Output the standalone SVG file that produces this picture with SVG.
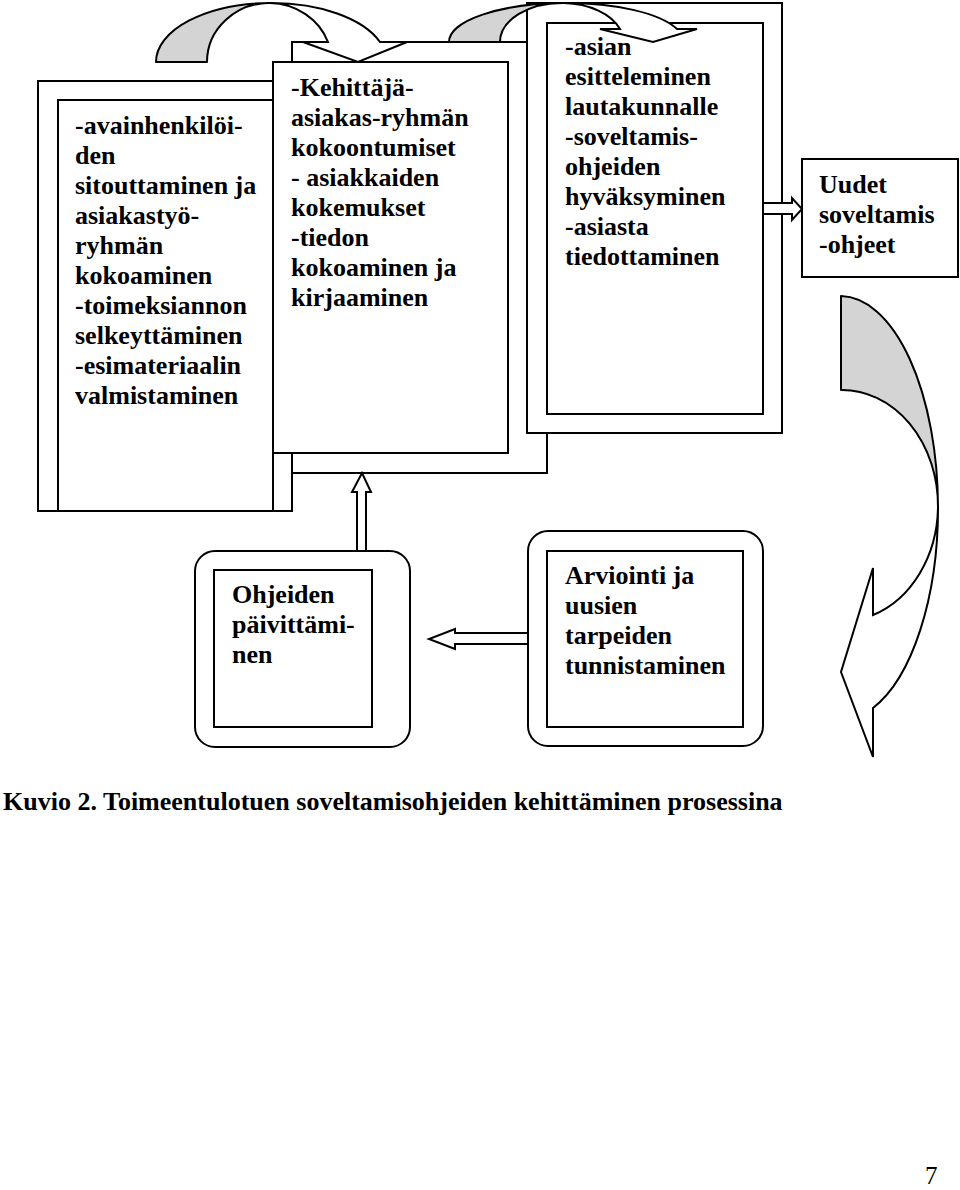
<svg xmlns="http://www.w3.org/2000/svg" width="960" height="1190" viewBox="0 0 960 1190">
<style>
.frame{fill:#fff;stroke:#000;stroke-width:2}
.back{fill:#d4d4d4;stroke:#000;stroke-width:2;stroke-linejoin:round}
.front{fill:#fff;stroke:#000;stroke-width:2;stroke-linejoin:miter}
.t{font-family:"Liberation Serif","Times New Roman",serif;font-weight:bold;font-size:26px;fill:#000}
.pg{font-family:"Liberation Serif","Times New Roman",serif;font-size:25px;fill:#000}
</style>
<rect width="960" height="1190" fill="#fff"/>
<g id="node-prep">
<rect class="frame" x="38" y="81" width="254" height="430"/>
<rect class="frame" x="58" y="100" width="215" height="411"/>
<text class="t" x="75" y="134">-avainhenkilöi-<tspan x="75" dy="30">den</tspan><tspan x="75" dy="30">sitouttaminen ja</tspan><tspan x="75" dy="30">asiakastyö-</tspan><tspan x="75" dy="30">ryhmän</tspan><tspan x="75" dy="30">kokoaminen</tspan><tspan x="75" dy="30">-toimeksiannon</tspan><tspan x="75" dy="30">selkeyttäminen</tspan><tspan x="75" dy="30">-esimateriaalin</tspan><tspan x="75" dy="30">valmistaminen</tspan></text>
</g>
<g id="node-group">
<rect class="frame" x="292" y="42" width="255" height="431"/>
<rect class="frame" x="273" y="62" width="235" height="391"/>
<text class="t" x="291" y="96">-Kehittäjä-<tspan x="291" dy="30">asiakas-ryhmän</tspan><tspan x="291" dy="30">kokoontumiset</tspan><tspan x="291" dy="30">- asiakkaiden</tspan><tspan x="291" dy="30">kokemukset</tspan><tspan x="291" dy="30">-tiedon</tspan><tspan x="291" dy="30">kokoaminen ja</tspan><tspan x="291" dy="30">kirjaaminen</tspan></text>
</g>
<g id="node-board">
<rect class="frame" x="527" y="3" width="255" height="430"/>
<rect class="frame" x="547" y="23" width="216" height="391"/>
<text class="t" x="565" y="55">-asian<tspan x="565" dy="30">esitteleminen</tspan><tspan x="565" dy="30">lautakunnalle</tspan><tspan x="565" dy="30">-soveltamis-</tspan><tspan x="565" dy="30">ohjeiden</tspan><tspan x="565" dy="30">hyväksyminen</tspan><tspan x="565" dy="30">-asiasta</tspan><tspan x="565" dy="30">tiedottaminen</tspan></text>
</g>
<g id="node-new">
<rect class="frame" x="802" y="159" width="156" height="118"/>
<text class="t" x="819" y="193">Uudet<tspan x="819" dy="30">soveltamis</tspan><tspan x="819" dy="30">-ohjeet</tspan></text>
</g>
<g id="node-update">
<rect class="frame" x="195" y="551" width="215" height="196" rx="20" ry="20"/>
<rect class="frame" x="214" y="570" width="158" height="157"/>
<text class="t" x="232" y="603">Ohjeiden<tspan x="232" dy="30">päivittämi-</tspan><tspan x="232" dy="30">nen</tspan></text>
</g>
<g id="node-eval">
<rect class="frame" x="528" y="531" width="235" height="215" rx="20" ry="20"/>
<rect class="frame" x="547" y="551" width="196" height="176"/>
<text class="t" x="565" y="584">Arviointi ja<tspan x="565" dy="30">uusien</tspan><tspan x="565" dy="30">tarpeiden</tspan><tspan x="565" dy="30">tunnistaminen</tspan></text>
</g>
<g id="connectors">
<path class="back" d="M156,62 A115,59 0 0 1 270,3 A63,59 0 0 0 207,62 Z"/>
<path class="front" d="M270,3 A115,59 0 0 1 380,42 L407,42 L358,62 L303,42 L328,42 A63,59 0 0 0 270,3 Z"/>
<path class="back" d="M449,42 A117,39 0 0 1 564,3 A62,39 0 0 0 500,42 Z"/>
<path class="front" d="M564,3 A117,39 0 0 1 677,29 L697,29 L653,42 L600,29 L620,29 A62,39 0 0 0 564,3 Z"/>
<path class="back" d="M841,296 A98,212 0 0 1 938,507 A96,116 0 0 0 841,390 Z"/>
<path class="front" d="M938,507 A98,212 0 0 1 873,708 L873,757 L841,672 L873,568 L873,615 A96,116 0 0 0 938,507 Z"/>
<polygon class="front" points="763,203 792,203 792,198 802,209 792,220 792,214 763,214"/>
<polygon class="front" points="528,633 455,633 455,629 429,639 455,649 455,644 528,644"/>
<polygon class="front" points="357,551 357,492 352,492 362,473 371,492 366,492 366,551"/>
</g>
<text class="t" x="3" y="810">Kuvio 2. Toimeentulotuen soveltamisohjeiden kehittäminen prosessina</text>
<text class="pg" x="925" y="1184">7</text>
</svg>
